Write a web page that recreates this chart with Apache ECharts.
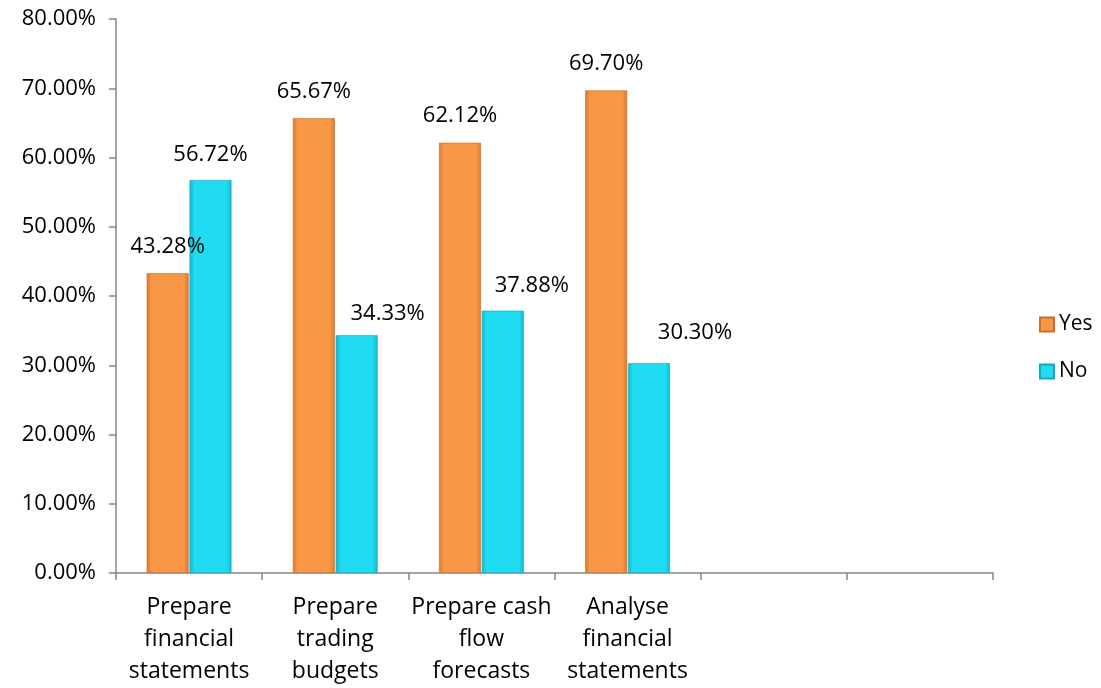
<!DOCTYPE html>
<html>
<head>
<meta charset="utf-8">
<script src="https://cdn.jsdelivr.net/npm/echarts@6/dist/echarts.min.js"></script>
<style>
  html, body { margin: 0; padding: 0; background: #fff; }
  #chart { width: 1101px; height: 688px; }
</style>
</head>
<body>
<div id="chart"></div>
<script>
// Share of respondents per financial task
const categories = [
  'Prepare\nfinancial\nstatements',
  'Prepare\ntrading\nbudgets',
  'Prepare cash\nflow\nforecasts',
  'Analyse\nfinancial\nstatements',
  '',
  ''
];
const yesValues = [43.28, 65.67, 62.12, 69.70, null, null];
const noValues = [56.72, 34.33, 37.88, 30.30, null, null];
const yTicks = [0, 10, 20, 30, 40, 50, 60, 70, 80];

const FONT = '"Open Sans", Lato, sans-serif';

function bevel(edge, mid) {
  return new echarts.graphic.LinearGradient(0, 0, 1, 0, [
    { offset: 0, color: edge },
    { offset: 0.12, color: mid },
    { offset: 0.88, color: mid },
    { offset: 1, color: edge }
  ]);
}

const orange = bevel('#d9782c', '#f89847');
const cyan = bevel('#14b8d0', '#1fdcf2');

// nudges [x, y] for the "No" value labels
const noLabelShift = [[0, 0], [31, 3], [29, 0], [46, -5], [0, 0], [0, 0]];

function pct(v) { return v.toFixed(2) + '%'; }

const chart = echarts.init(document.getElementById('chart'), null, { renderer: 'canvas' });
chart.setOption({
  animation: false,
  textStyle: { fontFamily: FONT },
  grid: { left: 116, right: 108, top: 19, bottom: 115, containLabel: false },
  legend: {
    orient: 'vertical',
    left: 1034,
    top: 309,
    itemWidth: 14,
    itemHeight: 14,
    itemGap: 26,
    textStyle: { fontFamily: FONT, fontSize: 21, color: '#000' },
    data: [
      { name: 'Yes', icon: 'rect' },
      { name: 'No', icon: 'rect' }
    ]
  },
  xAxis: {
    type: 'category',
    data: categories,
    axisLine: { lineStyle: { color: '#868686', width: 1.5 } },
    axisTick: { show: true, length: 7, lineStyle: { color: '#868686', width: 1.5 } },
    axisLabel: {
      interval: 0,
      fontFamily: FONT,
      fontSize: 23,
      color: '#000',
      lineHeight: 32,
      margin: 18
    },
    splitLine: { show: false }
  },
  yAxis: {
    type: 'value',
    min: yTicks[0],
    max: yTicks[yTicks.length - 1],
    interval: 10,
    axisLine: { show: true, lineStyle: { color: '#868686', width: 1.5 } },
    axisTick: { show: true, length: 7, lineStyle: { color: '#868686', width: 1.5 } },
    axisLabel: {
      fontFamily: FONT,
      fontSize: 22,
      color: '#000',
      margin: 20,
      formatter: v => v.toFixed(2) + '%'
    },
    splitLine: { show: false }
  },
  series: [
    {
      name: 'Yes',
      type: 'bar',
      data: yesValues,
      barCategoryGap: '42%',
      barGap: '2%',
      itemStyle: { color: orange, borderColor: '#c86f28', borderWidth: 0.6 },
      label: {
        show: true,
        position: 'top',
        distance: 16,
        fontFamily: FONT,
        fontSize: 22,
        color: '#000',
        formatter: p => p.value == null ? '' : pct(p.value)
      }
    },
    {
      name: 'No',
      type: 'bar',
      barGap: '2%',
      data: noValues.map((v, i) => ({
        value: v,
        label: { offset: noLabelShift[i] }
      })),
      itemStyle: { color: cyan, borderColor: '#12a9c0', borderWidth: 0.6 },
      label: {
        show: true,
        position: 'top',
        distance: 14,
        fontFamily: FONT,
        fontSize: 22,
        color: '#000',
        formatter: p => p.value == null ? '' : pct(p.value)
      }
    }
  ]
});
</script>
</body>
</html>
